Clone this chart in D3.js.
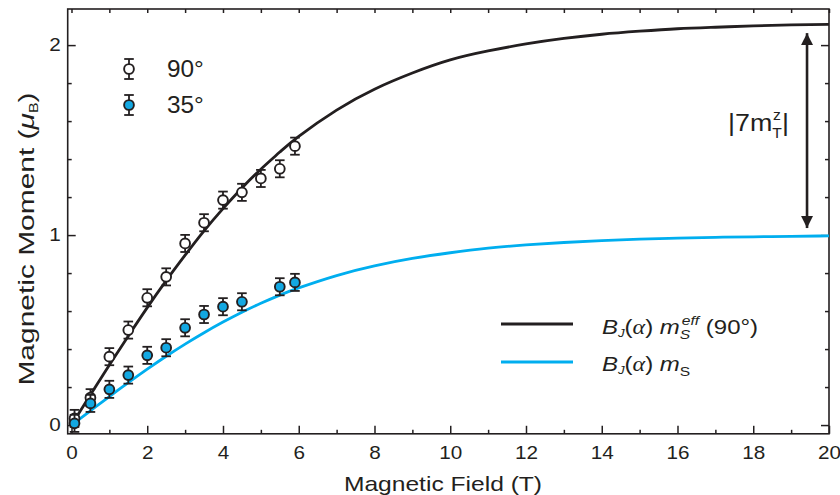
<!DOCTYPE html>
<html>
<head>
<meta charset="utf-8">
<script src="https://cdn.jsdelivr.net/npm/d3@7"></script>
<style>
  html, body { margin: 0; padding: 0; background: #fff; }
  svg text { font-family: "Liberation Sans", Arial, Helvetica, sans-serif; fill: #231f20; }
</style>
</head>
<body>
<svg id="chart" width="840" height="495"></svg>
<script>
// ---------------- data ----------------
const field90 = [0.08, 0.5, 1, 1.5, 2, 2.5, 3, 3.5, 4, 4.5, 5, 5.5, 5.9];
const moment90 = [0.035, 0.144, 0.36, 0.50, 0.67, 0.78, 0.956, 1.065, 1.184, 1.225, 1.298, 1.349, 1.468];
const err90 = [0.045, 0.045, 0.045, 0.045, 0.045, 0.045, 0.045, 0.045, 0.045, 0.045, 0.045, 0.045, 0.045];

const field35 = [0.08, 0.5, 1, 1.5, 2, 2.5, 3, 3.5, 4, 4.5, 5.5, 5.9];
const moment35 = [0.009, 0.114, 0.188, 0.263, 0.367, 0.407, 0.512, 0.582, 0.623, 0.649, 0.728, 0.751];
const err35 = [0.045, 0.045, 0.045, 0.045, 0.045, 0.045, 0.045, 0.045, 0.045, 0.045, 0.045, 0.045];

// fitted curves
const curveField = [0, 0.5, 1, 1.5, 2, 2.5, 3, 3.5, 4, 4.5, 5, 5.5, 6, 7, 8, 9, 10, 11, 12, 13, 14, 15, 16, 17, 18, 19, 20];
const curveEff90 = [0, 0.159, 0.316, 0.469, 0.618, 0.760, 0.894, 1.022, 1.139, 1.248, 1.347, 1.437, 1.520, 1.658, 1.768, 1.853, 1.922, 1.969, 2.006, 2.035, 2.057, 2.073, 2.086, 2.094, 2.101, 2.106, 2.109];
const curveMs = [0, 0.075, 0.150, 0.223, 0.294, 0.362, 0.426, 0.486, 0.542, 0.594, 0.641, 0.684, 0.722, 0.787, 0.838, 0.877, 0.907, 0.931, 0.948, 0.961, 0.971, 0.979, 0.984, 0.988, 0.991, 0.993, 0.996];

const xMajorTicks = [0, 2, 4, 6, 8, 10, 12, 14, 16, 18, 20];
const xMinorTicks = [1, 3, 5, 7, 9, 11, 13, 15, 17, 19];
const yMajorTicks = [0, 1, 2];
const yMinorTicks = [0.2, 0.4, 0.6, 0.8, 1.2, 1.4, 1.6, 1.8];

const legendSeries = ["90°", "35°"];
const arrowField = 19.42;
const arrowRange = [1.037, 2.063];

// ---------------- layout ----------------
const SX = 1.15;            // horizontal stretch of the lettering
const ink = "#231f20";
const blueLine = "#00aeef";
const blueFill = "#13a8e2";

const svg = d3.select("#chart");
const x = d3.scaleLinear().domain([-0.1, 20]).range([67.7, 829]);
const y = d3.scaleLinear().domain([-0.046, 2.19]).range([433.8, 9]);

const X0 = x.range()[0], X1 = x.range()[1];
const Y0 = y.range()[0], Y1 = y.range()[1];

function styleAxis(g) {
  g.select(".domain").remove();
  g.selectAll(".tick line").attr("stroke", ink).attr("stroke-width", 1.5);
}

// bottom axis
const gxMaj = svg.append("g").attr("transform", `translate(0,${Y0})`)
  .call(d3.axisBottom(x).tickValues(xMajorTicks).tickSize(-8).tickSizeOuter(0).tickPadding(12.5).tickFormat(d3.format("d")));
styleAxis(gxMaj);
gxMaj.selectAll(".tick text").attr("font-size", 18).attr("fill", ink).attr("font-family", null)
  .attr("transform", `scale(${SX},1)`);
const gxMin = svg.append("g").attr("transform", `translate(0,${Y0})`)
  .call(d3.axisBottom(x).tickValues(xMinorTicks).tickSize(-4).tickSizeOuter(0).tickFormat(""));
styleAxis(gxMin);

// top axis ticks
const gxTop = svg.append("g").attr("transform", `translate(0,${Y1})`)
  .call(d3.axisTop(x).tickValues(xMajorTicks.concat(xMinorTicks)).tickSize(-4).tickSizeOuter(0).tickFormat(""));
styleAxis(gxTop);

// left axis
const gyMaj = svg.append("g").attr("transform", `translate(${X0},0)`)
  .call(d3.axisLeft(y).tickValues(yMajorTicks).tickSize(-8).tickSizeOuter(0).tickPadding(7).tickFormat(d3.format("d")));
styleAxis(gyMaj);
gyMaj.selectAll(".tick text").attr("font-size", 18).attr("fill", ink).attr("font-family", null)
  .attr("x", 0).attr("transform", `translate(-7,0) scale(${SX},1)`);
const gyMin = svg.append("g").attr("transform", `translate(${X0},0)`)
  .call(d3.axisLeft(y).tickValues(yMinorTicks).tickSize(-4).tickSizeOuter(0).tickFormat(""));
styleAxis(gyMin);

// right axis ticks
const gyR = svg.append("g").attr("transform", `translate(${X1},0)`)
  .call(d3.axisRight(y).tickValues(yMajorTicks).tickSize(-8).tickSizeOuter(0).tickFormat(""));
styleAxis(gyR);
const gyRmin = svg.append("g").attr("transform", `translate(${X1},0)`)
  .call(d3.axisRight(y).tickValues(yMinorTicks).tickSize(-4).tickSizeOuter(0).tickFormat(""));
styleAxis(gyRmin);

// frame
svg.append("rect").attr("x", X0).attr("y", Y1).attr("width", X1 - X0).attr("height", Y0 - Y1)
  .attr("fill", "none").attr("stroke", ink).attr("stroke-width", 1.6);

// axis titles
svg.append("text").attr("transform", `translate(443,491) scale(1.2,1)`)
  .attr("text-anchor", "middle").attr("font-size", 20.5).text("Magnetic Field (T)");

const yt = svg.append("text").attr("transform", `translate(34,239) rotate(-90) scale(1.33,1)`)
  .attr("text-anchor", "middle").attr("font-size", 22.5);
yt.append("tspan").text("Magnetic Moment (");
yt.append("tspan").attr("font-style", "italic").text("μ");
yt.append("tspan").attr("font-size", 12).attr("dy", 4).text("B");
yt.append("tspan").attr("dy", -4).text(")");

// ---------------- curves ----------------
const clip = svg.append("clipPath").attr("id", "plotclip").append("rect")
  .attr("x", X0).attr("y", Y1).attr("width", X1 - X0).attr("height", Y0 - Y1);

const line = d3.line().x(d => x(d[0])).y(d => y(d[1])).curve(d3.curveNatural);
svg.append("path").datum(curveField.map((f, i) => [f, curveEff90[i]]))
  .attr("d", line).attr("fill", "none").attr("stroke", ink).attr("stroke-width", 2.8)
  .attr("clip-path", "url(#plotclip)");
svg.append("path").datum(curveField.map((f, i) => [f, curveMs[i]]))
  .attr("d", line).attr("fill", "none").attr("stroke", blueLine).attr("stroke-width", 2.8)
  .attr("clip-path", "url(#plotclip)");

// ---------------- points ----------------
function drawPoints(fields, vals, errs, fill) {
  const g = svg.append("g");
  fields.forEach((f, i) => {
    const cx = x(f), cy = y(vals[i]);
    const yHi = y(vals[i] + errs[i]), yLo = y(vals[i] - errs[i]);
    g.append("line").attr("x1", cx).attr("x2", cx).attr("y1", yHi).attr("y2", yLo)
      .attr("stroke", ink).attr("stroke-width", 1.8);
    [yHi, yLo].forEach(yy => g.append("line").attr("x1", cx - 4.8).attr("x2", cx + 4.8)
      .attr("y1", yy).attr("y2", yy).attr("stroke", ink).attr("stroke-width", 1.8));
    g.append("circle").attr("cx", cx).attr("cy", cy).attr("r", 4.9)
      .attr("fill", fill).attr("stroke", ink).attr("stroke-width", 1.9);
  });
}
drawPoints(field90, moment90, err90, "#fff");
drawPoints(field35, moment35, err35, blueFill);

// ---------------- legends ----------------
const legFills = ["#fff", blueFill];
legendSeries.forEach((name, i) => {
  const cx = 129, cy = 69 + i * 36;
  svg.append("line").attr("x1", cx).attr("x2", cx).attr("y1", cy - 10).attr("y2", cy + 10)
    .attr("stroke", ink).attr("stroke-width", 1.8);
  [cy - 10, cy + 10].forEach(yy => svg.append("line").attr("x1", cx - 4.8).attr("x2", cx + 4.8)
    .attr("y1", yy).attr("y2", yy).attr("stroke", ink).attr("stroke-width", 1.8));
  svg.append("circle").attr("cx", cx).attr("cy", cy).attr("r", 4.9)
    .attr("fill", legFills[i]).attr("stroke", ink).attr("stroke-width", 1.9);
  svg.append("text").attr("transform", `translate(167,${cy + 8}) scale(1.06,1)`)
    .attr("font-size", 23).text(name);
});

// line legend
const lineLeg = [{ color: ink, y: 324, base: 334, extra: true }, { color: blueLine, y: 362, base: 371, extra: false }];
lineLeg.forEach(d => {
  svg.append("line").attr("x1", 501).attr("x2", 573).attr("y1", d.y).attr("y2", d.y)
    .attr("stroke", d.color).attr("stroke-width", 2.8);
  const t = svg.append("text").attr("transform", `translate(602,${d.base}) scale(1.2,1)`).attr("font-size", 20);
  t.append("tspan").attr("font-style", "italic").text("B");
  t.append("tspan").attr("font-style", "italic").attr("font-size", 11).attr("dy", 3).text("J");
  t.append("tspan").attr("dy", -3).text("(");
  t.append("tspan").attr("font-style", "italic").attr("font-family", "'Liberation Serif', serif").text("α");
  t.append("tspan").text(") ");
  t.append("tspan").attr("font-style", "italic").text("m");
  if (d.extra) {
    t.append("tspan").attr("font-style", "italic").attr("font-size", 13).attr("dy", 5).text("S");
    t.append("tspan").attr("font-style", "italic").attr("font-size", 13).attr("dx", -7).attr("dy", -14).text("eff");
    t.append("tspan").attr("dy", 9).text(" (90°)");
  } else {
    t.append("tspan").attr("font-size", 13).attr("dy", 5).text("S");
  }
});

// ---------------- annotation arrow ----------------
const defs = svg.append("defs");
defs.append("marker").attr("id", "ahead").attr("viewBox", "0 0 10 10").attr("refX", 10).attr("refY", 5)
  .attr("markerWidth", 5.4).attr("markerHeight", 4.6).attr("markerUnits", "strokeWidth").attr("orient", "auto-start-reverse")
  .append("path").attr("d", "M0,0 L10,5 L0,10 Z").attr("fill", ink);
svg.append("line").attr("x1", x(arrowField)).attr("x2", x(arrowField))
  .attr("y1", y(arrowRange[0])).attr("y2", y(arrowRange[1]))
  .attr("stroke", ink).attr("stroke-width", 2.6)
  .attr("marker-start", "url(#ahead)").attr("marker-end", "url(#ahead)");

const at = svg.append("text").attr("transform", `translate(728,131) scale(1.12,1)`).attr("font-size", 24);
at.append("tspan").text("|7m");
at.append("tspan").attr("font-size", 14).attr("dy", 7).text("T");
at.append("tspan").attr("font-size", 14).attr("dx", -8).attr("dy", -18).text("z");
at.append("tspan").attr("dy", 11).attr("dx", 1).text("|");
</script>
</body>
</html>
